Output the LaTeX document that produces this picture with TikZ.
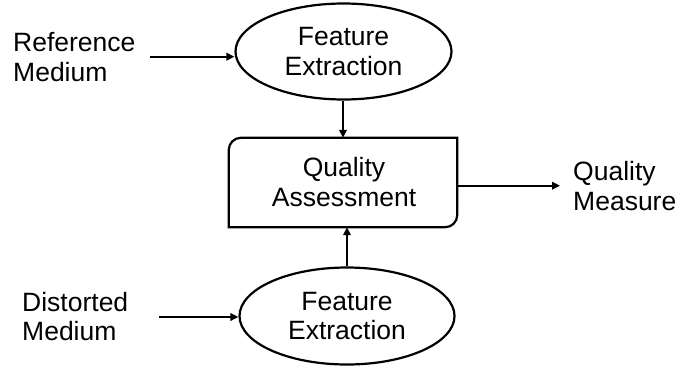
\documentclass[tikz,border=0pt]{standalone}
\usepackage{fontspec}
\setmainfont{Liberation Sans}
\usetikzlibrary{shapes.geometric,arrows.meta}
\tikzset{
  lbl/.style={inner sep=0pt, align=left, font=\fontsize{26.5}{29.5}\selectfont},
  ctxt/.style={inner sep=0pt, align=center, font=\fontsize{26.5}{29.5}\selectfont},
  fx/.style={ellipse, draw, line width=2.2pt, inner sep=0pt, align=center,
             font=\fontsize{26.5}{29.5}\selectfont},
  arr/.style={line width=2.2pt, -{Triangle[length=8pt,width=7.5pt]}}
}
\begin{document}
\begin{tikzpicture}[x=1pt,y=-1pt]
\useasboundingbox (0,0) rectangle (679,367);
% top feature extraction
\node[fx, minimum width=216pt, minimum height=96pt] (fe1) at (343.5,51.5) {Feature\\Extraction};
% bottom feature extraction
\node[fx, minimum width=215pt, minimum height=97pt] (fe2) at (347,316) {Feature\\Extraction};
% quality assessment box
\node[ctxt, minimum width=228pt, minimum height=89pt] (qa) at (343,182.5) {};
\node[ctxt] (qat) at (344,182) {Quality\\Assessment};
\draw[line width=2.2pt] (qa.south west) -- ([yshift=-12pt]qa.north west)
  arc[start angle=180,end angle=90,radius=12pt] -- (qa.north east)
  -- ([yshift=12pt]qa.south east)
  arc[start angle=0,end angle=-90,radius=12pt] -- cycle;
% texts
\node[lbl, anchor=west] (ref) at (13,57) {Reference\\Medium};
\node[lbl, anchor=west] (dis) at (22,316.5) {Distorted\\Medium};
\node[lbl, anchor=west] (qm) at (573,186) {Quality\\Measure};
% connectors
\coordinate (refs) at (150,56.7);
\coordinate (diss) at (159,317);
\coordinate (qme) at (560,185.7);
\draw[arr] (refs) -- (refs -| fe1.west);
\draw[arr] (diss) -- (diss -| fe2.west);
\draw[arr] (fe1.south -| qa.north) -- (qa.north);
\draw[arr] (fe2.north) -- (fe2.north |- qa.south);
\draw[arr] (qa.east |- qme) -- (qme);
\end{tikzpicture}
\end{document}
